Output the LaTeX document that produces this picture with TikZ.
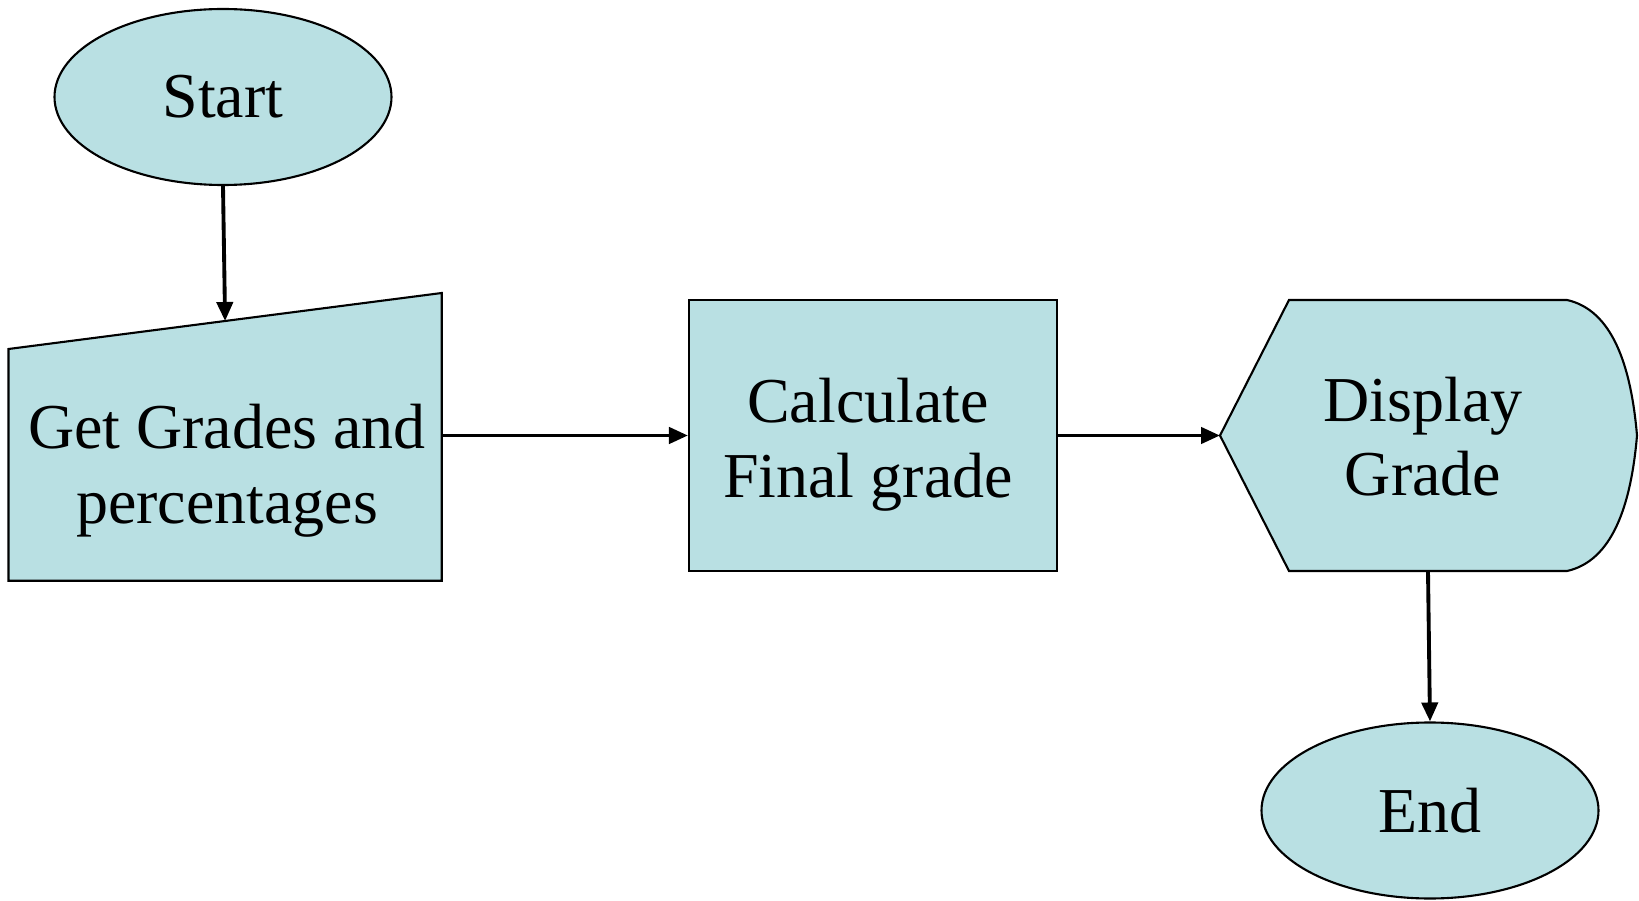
\documentclass[tikz,border=0pt]{standalone}
\usepackage{fontspec}
\setmainfont{Liberation Serif}
\usetikzlibrary{positioning, arrows.meta, calc, shapes.geometric}

\definecolor{boxblue}{RGB}{185,224,227}

\begin{document}
\begin{tikzpicture}[
  every node/.style={font=\fontsize{18.2}{21.3}\selectfont},
  block/.style={draw, fill=boxblue, line width=0.6pt},
  terminal/.style={block, ellipse, minimum width=3.37cm, minimum height=1.76cm, inner sep=0pt},
  process/.style={block, rectangle, minimum width=3.68cm, minimum height=2.71cm, inner sep=0pt},
  txt/.style={align=center, inner sep=0pt},
  flow/.style={line width=1.1pt, -{Triangle[length=5.4pt, width=4.6pt]}}
]
\useasboundingbox (0,0) rectangle (16.39,9);

% start and end
\node[terminal] (start) at (2.23,8.03) {Start};
\node[terminal] (stop) at (14.30,0.895) {End};

% manual input
\coordinate (gg-bl) at (0.085,3.193);
\coordinate (gg-br) at (4.417,3.193);
\coordinate (gg-tr) at (4.417,6.07);
\coordinate (gg-tl) at (0.085,5.51);
\draw[block] (gg-bl) -- (gg-br) -- (gg-tr) -- (gg-tl) -- cycle;
\coordinate (gg-top) at ($(gg-tl)!0.5!(gg-tr)$);
\coordinate (gg-right) at (4.417,4.645);
\node[txt] (getgrades) at (2.27,4.29) {Get Grades and\\percentages};

% process
\node[process] (calc) at (8.73,4.645) {};
\node[txt] (calctext) at (8.68,4.555) {Calculate\\Final grade};

% display
\coordinate (disp-left) at (12.20,4.645);
\coordinate (disp-bottom) at (14.28,3.29);
\draw[block] (disp-left) -- (12.89,6.0) -- (15.67,6.0)
  .. controls (16.12,5.9) and (16.31,5.35) .. (16.37,4.645)
  .. controls (16.31,3.94) and (16.12,3.39) .. (15.67,3.29)
  -- (12.89,3.29) -- cycle;
\node[txt] (display) at (14.23,4.634) {Display\\Grade};

% connectors
\draw[flow] (start.south) -- (gg-top);
\draw[flow] (gg-right) -- (calc.west);
\draw[flow] (calc.east) -- (disp-left);
\draw[flow] (disp-bottom) -- (stop.north);

\end{tikzpicture}
\end{document}
